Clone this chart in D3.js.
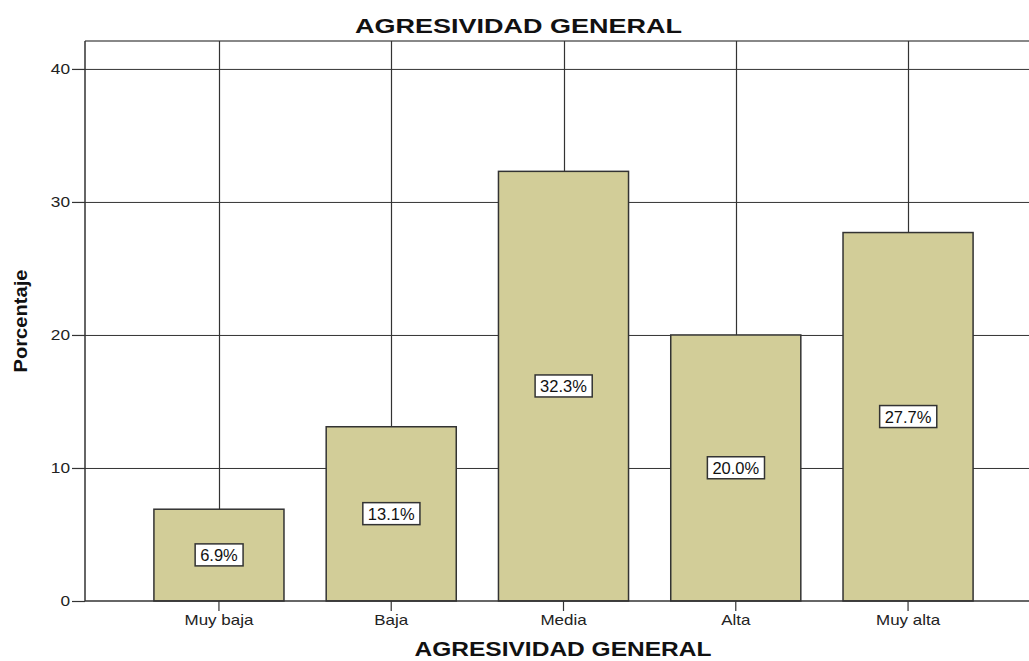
<!DOCTYPE html>
<html>
<head>
<meta charset="utf-8">
<script src="https://cdn.jsdelivr.net/npm/d3@7"></script>
<style>
body { margin: 0; background: #fff; }
text { font-family: "Liberation Sans", Arial, sans-serif; }
</style>
</head>
<body>
<div id="chart"></div>
<script>
// AGRESIVIDAD GENERAL - porcentaje por nivel
var categories = ["Muy baja", "Baja", "Media", "Alta", "Muy alta"];
var values = [6.9, 13.1, 32.3, 20.0, 27.7];
var yTicks = [0, 10, 20, 30, 40];

var width = 1029, height = 661;
var margin = {top: 41, right: -13, bottom: 60, left: 85};
var plotW = width - margin.left - margin.right,
    plotH = height - margin.top - margin.bottom;

// widen text horizontally (the original uses a wider rendering)
function stretch(sel, factor) {
    sel.each(function() {
        var w = this.getComputedTextLength();
        d3.select(this).attr("textLength", w * factor).attr("lengthAdjust", "spacingAndGlyphs");
    });
}

var svg = d3.select("#chart")
    .append("svg")
    .attr("width", width)
    .attr("height", height);

var g = svg.append("g")
    .attr("transform", "translate(" + margin.left + "," + margin.top + ")");

var x = d3.scaleBand()
    .domain(categories)
    .range([0, plotW])
    .paddingInner(0.245)
    .paddingOuter(0.4);

var y = d3.scaleLinear()
    .domain([0, 42.1])
    .range([plotH, 0]);

// top border
g.append("line")
    .attr("x1", 0).attr("x2", plotW)
    .attr("y1", 0).attr("y2", 0)
    .attr("stroke", "#888").attr("stroke-width", 2);

// horizontal grid
g.selectAll(".hgrid")
    .data(yTicks.slice(1))
    .enter().append("line")
    .attr("x1", 0).attr("x2", plotW)
    .attr("y1", function(d) { return y(d) + 0.5; })
    .attr("y2", function(d) { return y(d) + 0.5; })
    .attr("stroke", "#333").attr("stroke-width", 1);

// vertical grid at categories
g.selectAll(".vgrid")
    .data(categories)
    .enter().append("line")
    .attr("x1", function(d) { return Math.round(x(d) + x.bandwidth() / 2) + 0.5; })
    .attr("x2", function(d) { return Math.round(x(d) + x.bandwidth() / 2) + 0.5; })
    .attr("y1", 0).attr("y2", plotH)
    .attr("stroke", "#333").attr("stroke-width", 1.2);

// bars
g.selectAll(".bar")
    .data(values)
    .enter().append("rect")
    .attr("x", function(d, i) { return x(categories[i]); })
    .attr("y", function(d) { return y(d); })
    .attr("width", x.bandwidth())
    .attr("height", function(d) { return plotH - y(d); })
    .attr("fill", "#d2cd98")
    .attr("stroke", "#333")
    .attr("stroke-width", 1.5);

// y axis
var yAxis = g.append("g")
    .call(d3.axisLeft(y).tickValues(yTicks).tickSize(13).tickPadding(2));
yAxis.select(".domain").attr("stroke", "#333").attr("stroke-width", 1.5)
    .attr("d", "M0," + plotH + "V0");
yAxis.selectAll(".tick line").attr("stroke", "#333").attr("stroke-width", 1.2);
yAxis.selectAll("text").attr("font-size", 15).attr("fill", "#222")
    .attr("font-family", "Liberation Sans, Arial, sans-serif")
    .call(stretch, 1.15);

// x axis
var xAxis = g.append("g")
    .attr("transform", "translate(0," + plotH + ")")
    .call(d3.axisBottom(x).tickSize(10).tickPadding(3));
xAxis.select(".domain").attr("stroke", "#333").attr("stroke-width", 1.5)
    .attr("d", "M0,0H" + plotW);
xAxis.selectAll(".tick line").attr("stroke", "#333").attr("stroke-width", 1.2);
xAxis.selectAll("text").attr("font-size", 15).attr("fill", "#222")
    .attr("font-family", "Liberation Sans, Arial, sans-serif")
    .call(stretch, 1.13);

// value labels
var labels = g.selectAll(".lbl")
    .data(values)
    .enter().append("g")
    .attr("transform", function(d, i) {
        return "translate(" + (x(categories[i]) + x.bandwidth() / 2) + "," + y(d / 2) + ")";
    });

labels.append("text")
    .attr("text-anchor", "middle")
    .attr("dy", "0.35em")
    .attr("font-size", 16.5)
    .attr("fill", "#111")
    .text(function(d) { return d.toFixed(1) + "%"; });

labels.each(function() {
    var grp = d3.select(this);
    var bb = grp.select("text").node().getBBox();
    grp.insert("rect", "text")
        .attr("x", bb.x - 5)
        .attr("y", bb.y - 2)
        .attr("width", bb.width + 10)
        .attr("height", bb.height + 4)
        .attr("fill", "#fff")
        .attr("stroke", "#333")
        .attr("stroke-width", 1.5);
});

// titles
svg.append("text")
    .attr("x", 518.5).attr("y", 33)
    .attr("text-anchor", "middle")
    .attr("font-size", 21).attr("font-weight", "bold")
    .attr("fill", "#111")
    .attr("textLength", 327).attr("lengthAdjust", "spacingAndGlyphs")
    .text("AGRESIVIDAD GENERAL");

svg.append("text")
    .attr("x", 563).attr("y", 656)
    .attr("text-anchor", "middle")
    .attr("font-size", 20).attr("font-weight", "bold")
    .attr("fill", "#111")
    .attr("textLength", 297).attr("lengthAdjust", "spacingAndGlyphs")
    .text("AGRESIVIDAD GENERAL");

svg.append("text")
    .attr("transform", "translate(27,321) rotate(-90)")
    .attr("text-anchor", "middle")
    .attr("font-size", 18).attr("font-weight", "bold")
    .attr("fill", "#111")
    .attr("textLength", 103).attr("lengthAdjust", "spacingAndGlyphs")
    .text("Porcentaje");
</script>
</body>
</html>
